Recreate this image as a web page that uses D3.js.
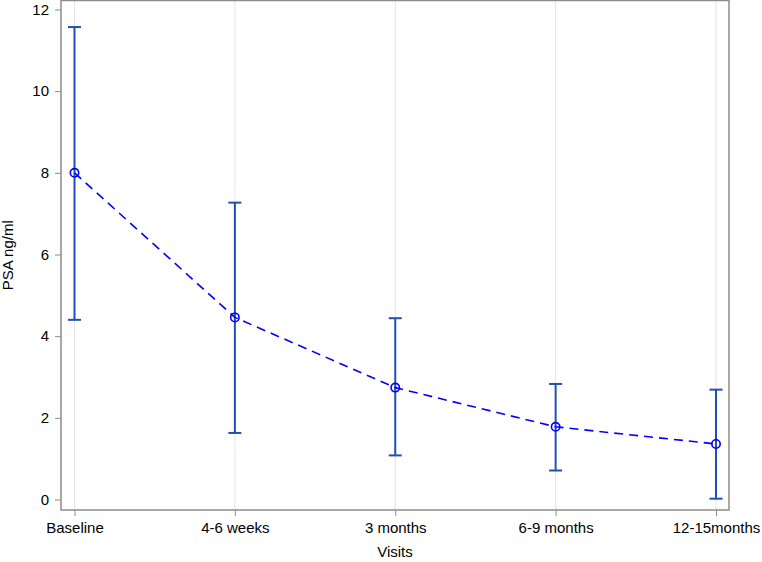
<!DOCTYPE html>
<html><head><meta charset="utf-8">
<script src="https://cdn.jsdelivr.net/npm/d3@7"></script>
<style>body{margin:0;background:#fff}svg{display:block}</style>
</head><body>
<script>
const visits = ["Baseline","4-6 weeks","3 months","6-9 months","12-15months"];
const means  = [8.0, 4.46, 2.74, 1.78, 1.36];
const upper  = [11.57, 7.27, 4.44, 2.83, 2.69];
const lower  = [4.40, 1.63, 1.08, 0.71, 0.02];
const yTicks = [0,2,4,6,8,10,12];

const W=762,H=562;
const L=61,R=729,T=0.5,B=510;
const svg=d3.select("body").append("svg").attr("width",W).attr("height",H);
const font="'Liberation Sans', Arial, sans-serif";

const x=d3.scalePoint().domain(visits).range([74.5,716]);
const y=d3.scaleLinear().domain([0,12]).range([499.5,9.5]);

// gridlines
svg.append("g").selectAll("line").data(visits).join("line")
  .attr("x1",d=>x(d)).attr("x2",d=>x(d)).attr("y1",T).attr("y2",B)
  .attr("stroke","#e4e4e4").attr("stroke-width",1);

// frame
svg.append("rect").attr("x",L).attr("y",T).attr("width",R-L).attr("height",B-T)
  .attr("fill","none").attr("stroke","#8c8c8c").attr("stroke-width",1.5);

// axes
const ya=svg.append("g").attr("transform",`translate(${L},0)`)
  .call(d3.axisLeft(y).tickValues(yTicks).tickSize(6).tickPadding(6));
const xa=svg.append("g").attr("transform",`translate(0,${B})`)
  .call(d3.axisBottom(x).tickSize(6).tickPadding(6));
[ya,xa].forEach(g=>{
  g.select(".domain").remove();
  g.selectAll(".tick line").attr("stroke","#8c8c8c");
  g.selectAll("text").attr("font-family",font).attr("font-size",15).attr("fill","#000");
});

// error bars
const ec="#2050b4";
const eb=svg.append("g").attr("stroke",ec).attr("stroke-width",2);
visits.forEach((v,i)=>{
  eb.append("line").attr("x1",x(v)).attr("x2",x(v)).attr("y1",y(upper[i])).attr("y2",y(lower[i]));
  eb.append("line").attr("x1",x(v)-6.5).attr("x2",x(v)+6.5).attr("y1",y(upper[i])).attr("y2",y(upper[i]));
  eb.append("line").attr("x1",x(v)-6.5).attr("x2",x(v)+6.5).attr("y1",y(lower[i])).attr("y2",y(lower[i]));
});

// mean line
const line=d3.line().x((d,i)=>x(visits[i])).y(d=>y(d));
svg.append("path").datum(means).attr("d",line).attr("fill","none")
  .attr("stroke","#0000ff").attr("stroke-width",1.6).attr("stroke-dasharray","9,6");

svg.append("g").selectAll("circle").data(means).join("circle")
  .attr("cx",(d,i)=>x(visits[i])).attr("cy",d=>y(d)).attr("r",4.2)
  .attr("fill","none").attr("stroke","#0000ff").attr("stroke-width",1.6);

// titles
svg.append("text").attr("x",(L+R)/2).attr("y",557).attr("text-anchor","middle")
  .attr("font-family",font).attr("font-size",15).text("Visits");
svg.append("text").attr("transform",`translate(13,${(T+B)/2}) rotate(-90)`).attr("text-anchor","middle")
  .attr("font-family",font).attr("font-size",15).text("PSA ng/ml");
</script>
</body></html>
